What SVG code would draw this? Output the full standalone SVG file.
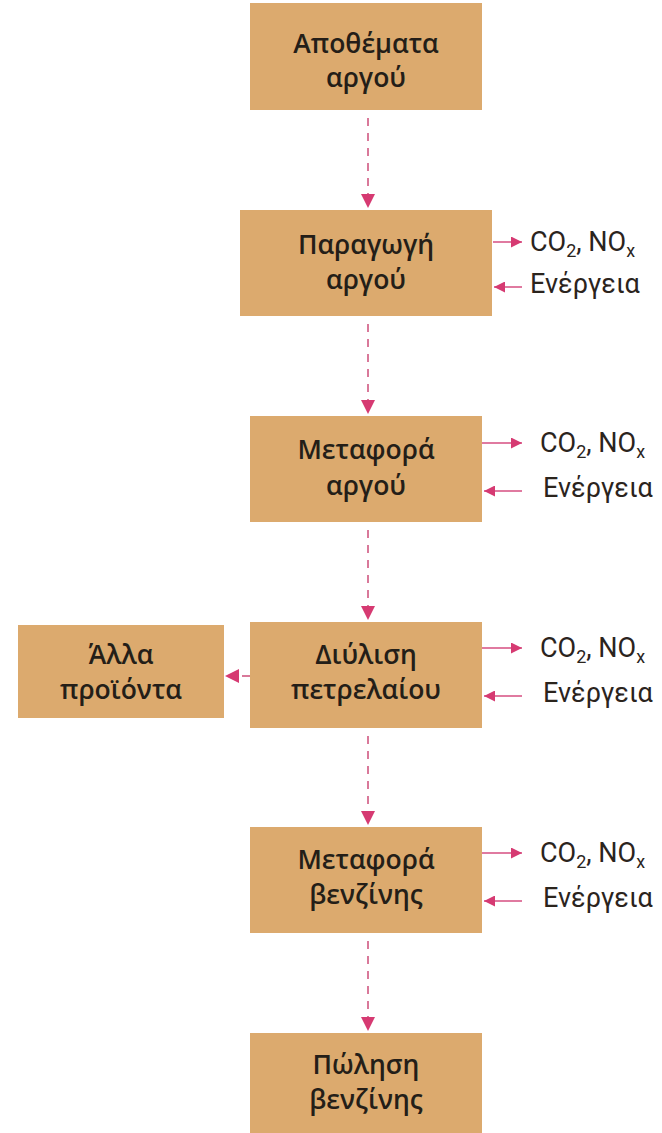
<svg xmlns="http://www.w3.org/2000/svg" width="662" height="1133" viewBox="0 0 662 1133">
<style>
.box{fill:#dcaa6e}
.t{font-family:"Open Sans",Roboto,"Liberation Sans",sans-serif;font-size:26.5px;font-weight:600;fill:#241e18;text-anchor:middle}
.s{font-family:Roboto,"Liberation Sans",sans-serif;font-size:27px;fill:#2b241d}
.sub{font-size:18px}
.dash{stroke:#d9799a;stroke-width:2;stroke-dasharray:8 7;fill:none}
.side{stroke:#e07aa0;stroke-width:2;fill:none}
</style>
<defs>
<marker id="ah" viewBox="0 0 10 10" refX="10" refY="5" markerWidth="11" markerHeight="11" markerUnits="userSpaceOnUse" orient="auto">
<path d="M0,0 L10,5 L0,10 z" fill="#d63a72"/>
</marker>
<marker id="bh" viewBox="0 0 10 10" refX="10" refY="5" markerWidth="14" markerHeight="14" markerUnits="userSpaceOnUse" orient="auto">
<path d="M0,0 L10,5 L0,10 z" fill="#d63a72"/>
</marker>
</defs>
<g id="n1"><rect class="box" x="250" y="3" width="232" height="107"/><text class="t" x="366" y="53">Αποθέματα</text><text class="t" x="366" y="87">αργού</text></g>
<g id="n2"><rect class="box" x="240" y="210" width="252" height="106"/><text class="t" x="366" y="254">Παραγωγή</text><text class="t" x="366" y="289">αργού</text></g>
<g id="n3"><rect class="box" x="250" y="416" width="232" height="106"/><text class="t" x="366" y="459">Μεταφορά</text><text class="t" x="366" y="495">αργού</text></g>
<g id="n4"><rect class="box" x="250" y="622" width="232" height="106"/><text class="t" x="366" y="664">Διύλιση</text><text class="t" x="366" y="699">πετρελαίου</text></g>
<g id="n5"><rect class="box" x="250" y="827" width="232" height="106"/><text class="t" x="366" y="869">Μεταφορά</text><text class="t" x="366" y="904">βενζίνης</text></g>
<g id="n6"><rect class="box" x="250" y="1033" width="232" height="100"/><text class="t" x="366" y="1074">Πώληση</text><text class="t" x="366" y="1109">βενζίνης</text></g>
<g id="n7"><rect class="box" x="18" y="625" width="206" height="93"/><text class="t" x="121" y="664">Άλλα</text><text class="t" x="121" y="699">προϊόντα</text></g>
<g id="labels">
<text class="s" x="530" y="251">CO<tspan class="sub" dy="6">2</tspan><tspan dy="-6">, NO</tspan><tspan class="sub" dy="6">x</tspan></text>
<text class="s" x="530" y="293">Ενέργεια</text>
<text class="s" x="540" y="452">CO<tspan class="sub" dy="6">2</tspan><tspan dy="-6">, NO</tspan><tspan class="sub" dy="6">x</tspan></text>
<text class="s" x="543" y="497">Ενέργεια</text>
<text class="s" x="540" y="657">CO<tspan class="sub" dy="6">2</tspan><tspan dy="-6">, NO</tspan><tspan class="sub" dy="6">x</tspan></text>
<text class="s" x="543" y="702">Ενέργεια</text>
<text class="s" x="540" y="862">CO<tspan class="sub" dy="6">2</tspan><tspan dy="-6">, NO</tspan><tspan class="sub" dy="6">x</tspan></text>
<text class="s" x="543" y="907">Ενέργεια</text>
</g>
<g id="connectors">
<path class="dash" d="M368,118 V208" marker-end="url(#bh)"/>
<path class="dash" d="M368,324 V414" marker-end="url(#bh)"/>
<path class="dash" d="M368,530 V620" marker-end="url(#bh)"/>
<path class="dash" d="M368,736 V825" marker-end="url(#bh)"/>
<path class="dash" d="M368,941 V1031" marker-end="url(#bh)"/>
<path class="dash" d="M250,676 H225" marker-end="url(#bh)"/>
<path class="side" d="M493,242 H522" marker-end="url(#ah)"/>
<path class="side" d="M522,287 H494" marker-end="url(#ah)"/>
<path class="side" d="M482,443 H522" marker-end="url(#ah)"/>
<path class="side" d="M522,491 H484" marker-end="url(#ah)"/>
<path class="side" d="M482,648 H522" marker-end="url(#ah)"/>
<path class="side" d="M522,696 H484" marker-end="url(#ah)"/>
<path class="side" d="M482,853 H522" marker-end="url(#ah)"/>
<path class="side" d="M522,901 H484" marker-end="url(#ah)"/>
</g>
</svg>
